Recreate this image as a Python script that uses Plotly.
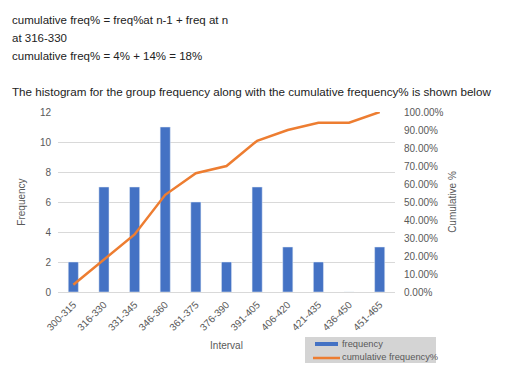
import plotly.graph_objects as go

intervals = ["300-315", "316-330", "331-345", "346-360", "361-375", "376-390",
             "391-405", "406-420", "421-435", "436-450", "451-465"]
frequency = [2, 7, 7, 11, 6, 2, 7, 3, 2, 0, 3]
cumulative_pct = [0.04, 0.18, 0.32, 0.54, 0.66, 0.70, 0.84, 0.90, 0.94, 0.94, 1.00]
series_names = ["frequency", "cumulative frequency%"]

text_lines = [
    ("cumulative freq% = freq%at n-1 + freq at n", 20),
    ("at 316-330", 38),
    ("cumulative freq% = 4% + 14% = 18%", 56),
    ("The histogram for the group frequency along with the cumulative frequency% is shown below", 91),
]

OFF = 8  # page body margin offset
W, H = 521 - OFF, 387 - OFF
L, R, T, B = 58 - OFF, 126, 112 - OFF, 95
pw, ph = W - L - R, H - T - B
BLUE, ORANGE, GREY = "#4472C4", "#ED7D31", "#595959"


def px(x):
    return (x - OFF - L) / pw


def py(y):
    return (T + ph - (y - OFF)) / ph


fig = go.Figure()
fig.add_trace(go.Bar(x=intervals, y=frequency, name=series_names[0],
                     marker_color=BLUE, width=0.33))
fig.add_trace(go.Scatter(x=intervals, y=cumulative_pct, name=series_names[1],
                         mode="lines", line=dict(color=ORANGE, width=2.5),
                         yaxis="y2"))

tick_font = dict(family="Liberation Sans, Arial", size=10, color=GREY)

fig.update_layout(
    width=W, height=H,
    margin=dict(l=L, r=R, t=T, b=B),
    plot_bgcolor="white", paper_bgcolor="white",
    font=dict(family="Liberation Sans, Arial", color=GREY),
    showlegend=False,
    xaxis=dict(tickangle=-45, tickfont=tick_font, showgrid=False, showline=True,
               linecolor="#d9d9d9", ticks="", automargin=False, ticklabelstandoff=2,
               title=dict(text="Interval", font=dict(size=10, color=GREY), standoff=10)),
    yaxis=dict(range=[0, 12], dtick=2, tickfont=tick_font, gridcolor="#d9d9d9",
               zeroline=False, ticks="", automargin=False, ticklabelstandoff=6,
               title=dict(text="Frequency", font=dict(size=10, color=GREY), standoff=12)),
    yaxis2=dict(range=[0, 1], dtick=0.1, tickformat=".2%", overlaying="y", side="right",
                showgrid=False, zeroline=False, tickfont=tick_font, ticks="", automargin=False,
                ticklabelstandoff=8,
                title=dict(text="Cumulative %", font=dict(size=10, color=GREY), standoff=6)),
    bargap=0.5,
)

for i, (txt, yy) in enumerate(text_lines):
    fig.add_annotation(text=txt, xref="paper", yref="paper",
                       x=px(10), y=py(yy),
                       xanchor="left", yanchor="middle", showarrow=False,
                       font=dict(family="Liberation Sans, Arial", size=11.65 if i == 3 else 11.5,
                                 color="#222222"))

# legend box
fig.add_shape(type="rect", xref="paper", yref="paper", x0=px(305), x1=px(436),
              y0=py(337), y1=py(363), fillcolor="#d4d4d4", line_width=0, layer="below")
fig.add_shape(type="rect", xref="paper", yref="paper", x0=px(315), x1=px(338),
              y0=py(342), y1=py(346), fillcolor=BLUE, line_width=0)
fig.add_shape(type="line", xref="paper", yref="paper", x0=px(313), x1=px(340),
              y0=py(358), y1=py(358), line=dict(color=ORANGE, width=2.5))
for name, yy in zip(series_names, [343.5, 357]):
    fig.add_annotation(text=name, xref="paper", yref="paper", x=px(340), y=py(yy),
                       xanchor="left", yanchor="middle", showarrow=False,
                       font=dict(family="Liberation Sans, Arial", size=9.3, color=GREY))

fig.write_html("out.html")
